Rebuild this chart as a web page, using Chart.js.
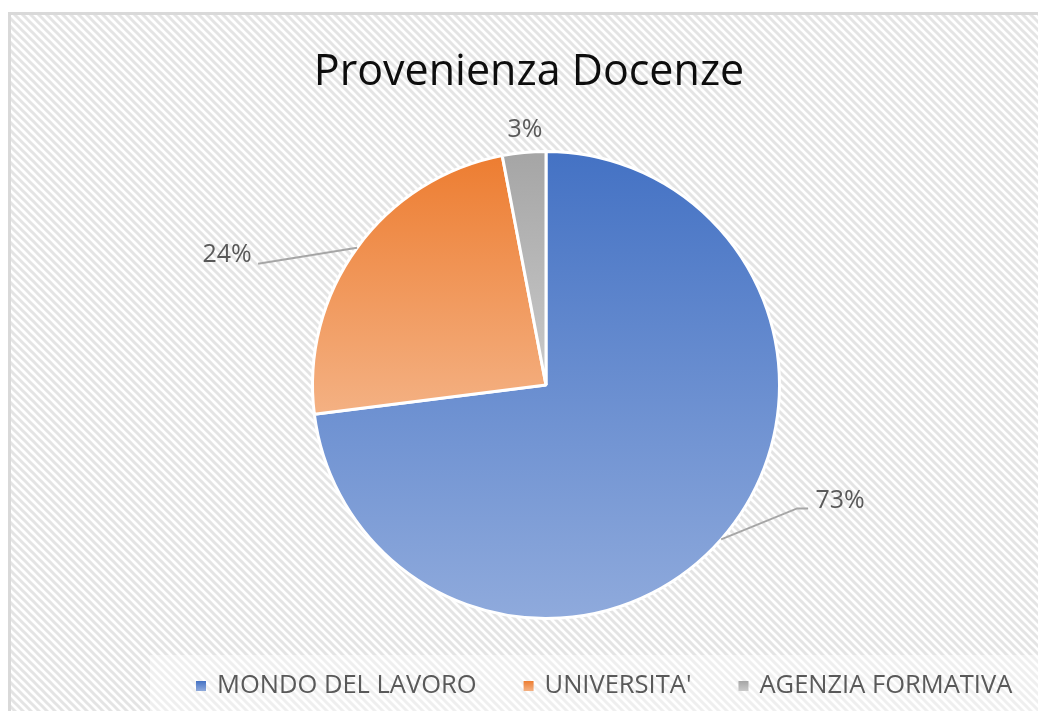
<!DOCTYPE html>
<html>
<head>
<meta charset="utf-8">
<title>Provenienza Docenze</title>
<script src="https://cdn.jsdelivr.net/npm/chart.js@4.4.1/dist/chart.umd.min.js"></script>
<style>
  html, body { margin: 0; padding: 0; background: #fff; }
  #wrap { position: relative; width: 1038px; height: 711px; }
</style>
</head>
<body>
<div id="wrap"><canvas id="pieChart"></canvas></div>
<script>
// Data
const chartTitle = 'Provenienza Docenze';
const categories = ['MONDO DEL LAVORO', "UNIVERSITA'", 'AGENZIA FORMATIVA'];
const percentages = [73, 24, 3];

// Slice colours (gradient top -> bottom, like the Excel fill)
const topColors = ['#4472C4', '#ED7D31', '#A5A5A5'];
const bottomColors = ['#8FAADC', '#F4B183', '#CACACA'];

// Where each % label sits relative to the middle of its arc edge
const labelLayout = [
  { dx: 119, dy: -39, leader: [[76, -31], [87, -31]] },
  { dx: -130, dy: 7, leader: [[-99, 16]] },
  { dx: 1, dy: -23, leader: null }
];

const FONT = '"Open Sans", "Noto Sans", sans-serif';
const BORDER = 3;

// diagonal hatch like the Excel "wide downward diagonal" pattern
function makeHatch() {
  const c = document.createElement('canvas');
  c.width = 8; c.height = 8;
  const g = c.getContext('2d');
  g.fillStyle = '#ffffff';
  g.fillRect(0, 0, 8, 8);
  g.strokeStyle = '#e4e4e4';
  g.lineWidth = 3;
  [-8, 0, 8].forEach(off => {
    g.beginPath();
    g.moveTo(off - 2, -2);
    g.lineTo(off + 10, 10);
    g.stroke();
  });
  return c;
}
const hatchTile = makeHatch();

// Vertical gradient over the bounding box of one slice
function sliceGradient(context) {
  const chart = context.chart;
  const i = context.dataIndex;
  const area = chart.chartArea;
  if (!area) return topColors[i];
  const cx = (area.left + area.right) / 2;
  const cy = (area.top + area.bottom) / 2;
  const r = (Math.min(area.right - area.left, area.bottom - area.top) - BORDER) / 2;
  const total = percentages.reduce((a, b) => a + b, 0);
  const before = percentages.slice(0, i).reduce((a, b) => a + b, 0);
  const a0 = -Math.PI / 2 + before / total * Math.PI * 2;
  const a1 = a0 + percentages[i] / total * Math.PI * 2;
  const ys = [cy, cy + r * Math.sin(a0), cy + r * Math.sin(a1)];
  for (let k = -1; k <= 2; k++) {
    const down = Math.PI / 2 + k * Math.PI * 2;
    const up = -Math.PI / 2 + k * Math.PI * 2;
    if (down > a0 && down < a1) ys.push(cy + r);
    if (up > a0 && up < a1) ys.push(cy - r);
  }
  const y0 = Math.min(...ys), y1 = Math.max(...ys);
  const grad = chart.ctx.createLinearGradient(0, y0, 0, Math.max(y1, y0 + 1));
  grad.addColorStop(0, topColors[i]);
  grad.addColorStop(1, bottomColors[i]);
  return grad;
}

const backdropPlugin = {
  id: 'backdrop',
  beforeDraw(chart) {
    const ctx = chart.ctx;
    const w = chart.width, h = chart.height;
    ctx.save();
    ctx.fillStyle = '#ffffff';
    ctx.fillRect(0, 0, w, h);
    ctx.fillStyle = ctx.createPattern(hatchTile, 'repeat');
    ctx.fillRect(10, 14, w - 10, h - 14);
    // lighter box behind the legend
    ctx.fillStyle = 'rgba(255,255,255,0.4)';
    ctx.fillRect(150, 655, w - 150, h - 655);
    // chart frame
    ctx.fillStyle = '#d9d9d9';
    ctx.fillRect(8, 12, w - 8, 3);
    ctx.fillRect(8, 12, 3, h - 12);
    ctx.restore();
  }
};

const decorPlugin = {
  id: 'decor',
  afterDraw(chart) {
    const ctx = chart.ctx;
    ctx.save();

    // title
    ctx.fillStyle = '#0d0d0d';
    ctx.font = '43px ' + FONT;
    ctx.textAlign = 'center';
    ctx.textBaseline = 'alphabetic';
    ctx.fillText(chartTitle, 529, 85);

    // data labels + leader lines
    const meta = chart.getDatasetMeta(0);
    const total = percentages.reduce((a, b) => a + b, 0);
    meta.data.forEach((arc, i) => {
      const p = arc.getProps(['x', 'y', 'startAngle', 'endAngle', 'outerRadius'], true);
      const mid = (p.startAngle + p.endAngle) / 2;
      const ax = p.x + Math.cos(mid) * p.outerRadius;
      const ay = p.y + Math.sin(mid) * p.outerRadius;
      const lay = labelLayout[i];
      if (lay.leader) {
        ctx.strokeStyle = '#a6a6a6';
        ctx.lineWidth = 2;
        ctx.beginPath();
        ctx.moveTo(ax, ay);
        lay.leader.forEach(pt => ctx.lineTo(ax + pt[0], ay + pt[1]));
        ctx.stroke();
      }
      ctx.fillStyle = '#595959';
      ctx.font = '25px ' + FONT;
      ctx.textAlign = 'center';
      ctx.textBaseline = 'middle';
      const pct = Math.round(percentages[i] / total * 100) + '%';
      ctx.fillText(pct, ax + lay.dx, ay + lay.dy);
    });

    // legend
    ctx.font = '25.5px ' + FONT;
    ctx.textAlign = 'left';
    ctx.textBaseline = 'middle';
    let x = 196;
    const ly = 686;
    categories.forEach((name, i) => {
      const g = ctx.createLinearGradient(0, ly - 5, 0, ly + 5);
      g.addColorStop(0, topColors[i]);
      g.addColorStop(1, bottomColors[i]);
      ctx.fillStyle = g;
      ctx.fillRect(x, ly - 5, 10, 10);
      ctx.fillStyle = '#595959';
      ctx.fillText(name, x + 21, ly);
      x += 21 + ctx.measureText(name).width + 47;
    });

    ctx.restore();
  }
};

new Chart(document.getElementById('pieChart'), {
  type: 'pie',
  data: {
    labels: categories,
    datasets: [{
      data: percentages,
      backgroundColor: sliceGradient,
      borderColor: '#ffffff',
      borderWidth: BORDER
    }]
  },
  options: {
    responsive: true,
    maintainAspectRatio: false,
    animation: false,
    layout: { padding: { top: 150, bottom: 91, left: 54, right: 0 } },
    plugins: {
      legend: { display: false },
      title: { display: false },
      tooltip: { enabled: false }
    }
  },
  plugins: [backdropPlugin, decorPlugin]
});
</script>
</body>
</html>
